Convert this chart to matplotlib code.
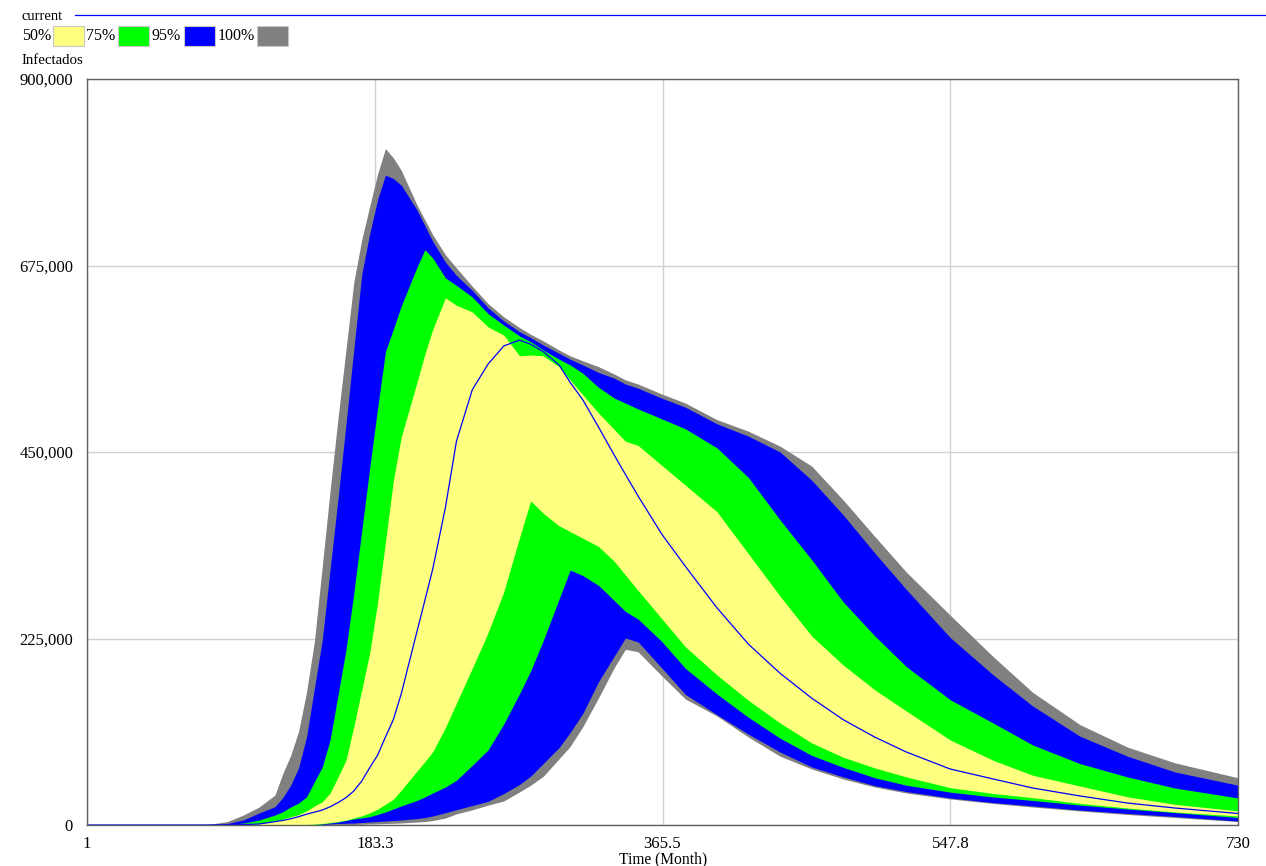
import matplotlib.pyplot as plt
import numpy as np
from matplotlib.patches import Rectangle
from matplotlib.lines import Line2D
from matplotlib.ticker import FuncFormatter

plt.rcParams['font.family'] = ['Liberation Serif', 'DejaVu Serif']

# time (month)
t = [1, 50, 70, 80, 90, 100, 110, 120, 125, 130, 135, 140, 145, 150, 155,
     160, 165, 170, 175, 180, 185, 190, 195, 200, 210, 215, 220, 228, 235,
     245, 255, 265, 275, 282, 290, 300, 307, 315, 325, 335, 342, 350, 365,
     380, 400, 420, 440, 460, 480, 500, 520, 547.8, 575, 600, 630, 660, 690, 730]

# sensitivity bands, Infectados in thousands (upper / lower edge of each band)
hi100 = [0, 0, 0.3, 1.2, 4.2, 12, 21.7, 36, 62, 84, 113, 160, 221, 312, 404,
         491, 573, 655, 706, 746, 785, 816, 805, 790, 748, 730, 712, 688, 672,
         650, 629, 613, 600, 592, 584, 573, 566, 560, 553, 544, 537, 532, 520,
         509, 489, 475, 457, 433, 392, 348, 305, 253, 203, 160, 121, 94, 75, 57]
hi95 = [0, 0, 0, 0.5, 1.8, 6, 14.5, 22, 33, 48, 69, 106, 164.5, 223, 309,
        394, 483, 574, 664, 713, 754, 784, 780, 772, 742, 723, 704, 679, 663,
        645, 624, 608, 595, 588, 579, 569, 562, 555, 546, 539, 532, 527, 515,
        504, 484, 469, 450, 416, 374, 328, 284, 226, 181, 143.5, 107, 83, 64, 48]
hi75 = [0, 0, 0, 0, 0.5, 2.4, 6, 12, 16, 21.7, 26.5, 33.8, 52, 70, 103,
        157, 211, 280, 355, 430, 502, 571, 598, 626, 673, 694, 684, 660, 651,
        637, 617, 603, 590, 583, 573, 562, 555, 545, 528, 515, 509, 502, 490,
        478, 455, 419, 368, 320, 269, 228, 191, 151, 123, 96.5, 74, 58, 44.6, 32.6]
hi50 = [0, 0, 0, 0, 0, 0.5, 1.5, 5, 7, 10, 12.5, 17, 23, 28, 38.6,
        58, 78, 119, 163, 207, 268, 341, 415, 468, 534, 568, 598, 636, 627,
        619, 601, 591, 566, 567, 566, 553, 537, 519, 497, 477, 463, 458, 434,
        410, 378, 327, 276, 228, 193, 163, 137.5, 102.5, 78, 60, 47, 34, 25, 17]
lo50 = [0, 0, 0, 0, 0, 0, 0, 0, 0, 0.2, 0.4, 0.6, 1.1, 1.8, 3,
        4.2, 6, 8.4, 11, 14.5, 19, 25, 31, 42, 65, 76.5, 88.5, 117.6, 147,
        189, 232, 281.5, 347, 391, 376, 361, 354, 346, 336, 318, 301.6, 283, 249,
        215, 181, 150.2, 123, 99, 81.7, 68.8, 58, 45, 38, 33, 26, 20.5, 15.7, 10.9]
lo75 = [0, 0, 0, 0, 0, 0, 0, 0, 0, 0, 0, 0, 0.6, 1.2, 2.4,
        3.6, 5.4, 7.2, 8.6, 10, 12.7, 15.7, 19.3, 23, 29.6, 33.8, 38.6, 45.8, 54,
        72, 90.5, 122, 158.6, 186, 222.7, 272.6, 307.6, 301, 289, 270.7, 257.7, 248.5, 221.5,
        189, 158, 129.8, 104.7, 84, 69.5, 57, 48, 39.6, 33.8, 29.6, 24, 19.3, 15, 9]
lo95 = [0, 0, 0, 0, 0, 0, 0, 0, 0, 0, 0, 0, 0.3, 0.6, 1.2,
        1.8, 2.1, 2.4, 3, 3.6, 4.2, 4.8, 5.4, 6, 7.8, 9, 10.9, 14.8, 18.5,
        23.5, 28.5, 38, 49, 59, 74.3, 93.4, 111.6, 134.6, 173, 204, 225.6, 221, 189.5,
        157.6, 133, 109.5, 88, 70, 58, 47.4, 40.3, 32.6, 27, 23, 18, 13.9, 10.3, 4.8]
lo100 = [0, 0, 0, 0, 0, 0, 0, 0, 0, 0, 0, 0, 0, 0, 0,
         0, 0.3, 0.6, 0.9, 1.2, 1.5, 1.8, 2.1, 2.4, 3.6, 4.2, 5.4, 8.4, 13.5,
         18.3, 24, 29, 40, 48, 58.8, 79.9, 94.8, 118.5, 153.5, 190, 212, 209, 180,
         152, 131.5, 106, 83, 67.6, 55.5, 45.8, 38.6, 31.4, 26, 21.7, 17, 12.7, 9, 4.2]
current = [0, 0, 0, 0, 0.2, 0.5, 1.2, 4, 5.5, 7.5, 10, 13, 15.5, 18, 22,
           27, 33, 41, 53, 69, 84, 106, 127, 158, 233.5, 271, 309, 383, 463,
           525, 556, 578, 585, 580, 571, 555, 534, 513, 480, 446, 423, 397, 351,
           312, 262, 218, 183, 153, 127, 106, 88, 67.5, 55.5, 44.6, 35, 26.5, 20.5, 13.9]

bands = [
    ('100%', lo100, hi100, '#808080'),
    ('95%', lo95, hi95, '#0000ff'),
    ('75%', lo75, hi75, '#00ff00'),
    ('50%', lo50, hi50, '#ffff80'),
]

W, H = 1266, 866
fig = plt.figure(figsize=(W / 100, H / 100), dpi=100)
ax = fig.add_axes([87 / W, 41 / H, 1151 / W, 746 / H])

tt = np.array(t)
for name, lo, hi, col in bands:
    ax.fill_between(tt, np.array(lo) * 1000, np.array(hi) * 1000,
                    color=col, linewidth=0, zorder=2)
ax.plot(tt, np.array(current) * 1000, color='#0000ff', lw=0.9, zorder=3)

ax.set_xlim(1, 730)
ax.set_ylim(0, 900000)
ax.set_xticks([1, 183.3, 365.5, 547.8, 730])
ax.set_xticklabels(['1', '183.3', '365.5', '547.8', '730'])
ax.set_yticks([0, 225000, 450000, 675000, 900000])
ax.yaxis.set_major_formatter(FuncFormatter(lambda v, p: '{:,.0f}'.format(v)))
ax.tick_params(length=0, labelsize=12, colors='#000000')
ax.tick_params(axis='y', pad=10)
ax.tick_params(axis='x', pad=8)
ax.grid(True, color='#d0d0d0', lw=1, zorder=1)
ax.set_axisbelow(True)
for s in ax.spines.values():
    s.set_color('#606060')
    s.set_linewidth(1)
    s.set_zorder(4)

fig.text(663 / W, 1 - 859 / H, 'Time (Month)', ha='center', va='center', fontsize=11.2)
fig.text(22 / W, 1 - 60 / H, 'Infectados', ha='left', va='center', fontsize=10.7)

# legend strip at the top
fig.text(22 / W, 1 - 17 / H, 'current', ha='left', va='center', fontsize=10.5)
fig.add_artist(Line2D([75 / W, 1], [1 - 15 / H, 1 - 15 / H], color='#0000ff', lw=0.9))
leg = [('50%', 22, 53, '#ffff80'), ('75%', 86, 118, '#00ff00'),
       ('95%', 151, 184, '#0000ff'), ('100%', 218, 257, '#808080')]
for lab, tx, bx, col in leg:
    fig.text(tx / W, 1 - 36 / H, lab, ha='left', va='center', fontsize=11.5)
    fig.add_artist(Rectangle((bx / W, 1 - 46 / H), 31 / W, 20 / H,
                             transform=fig.transFigure, facecolor=col,
                             edgecolor='#c8c8c8', lw=0.8))

fig.savefig('out.png', dpi=100)
